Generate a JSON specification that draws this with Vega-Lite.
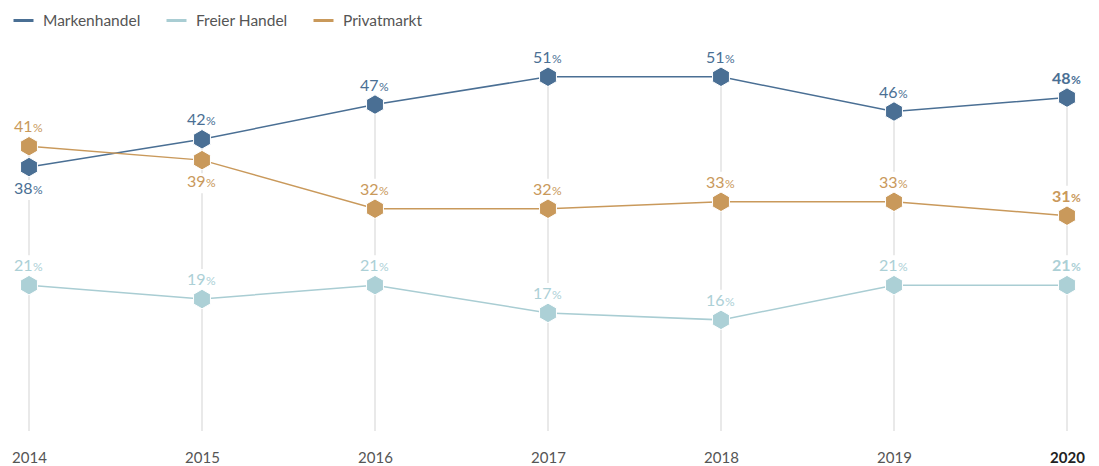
{
  "$schema": "https://vega.github.io/schema/vega-lite/v6.json",
  "autosize": "none",
  "width": 1038,
  "height": 382,
  "padding": {"left": 29, "top": 49, "right": 32, "bottom": 35},
  "background": "white",
  "config": {"view": {"stroke": null}, "font": "Lato"},
  "data": {
    "values": [
      {"year": 2014, "series": "Markenhandel", "value": 38},
      {"year": 2015, "series": "Markenhandel", "value": 42},
      {"year": 2016, "series": "Markenhandel", "value": 47},
      {"year": 2017, "series": "Markenhandel", "value": 51},
      {"year": 2018, "series": "Markenhandel", "value": 51},
      {"year": 2019, "series": "Markenhandel", "value": 46},
      {"year": 2020, "series": "Markenhandel", "value": 48},
      {"year": 2014, "series": "Freier Handel", "value": 21},
      {"year": 2015, "series": "Freier Handel", "value": 19},
      {"year": 2016, "series": "Freier Handel", "value": 21},
      {"year": 2017, "series": "Freier Handel", "value": 17},
      {"year": 2018, "series": "Freier Handel", "value": 16},
      {"year": 2019, "series": "Freier Handel", "value": 21},
      {"year": 2020, "series": "Freier Handel", "value": 21},
      {"year": 2014, "series": "Privatmarkt", "value": 41},
      {"year": 2015, "series": "Privatmarkt", "value": 39},
      {"year": 2016, "series": "Privatmarkt", "value": 32},
      {"year": 2017, "series": "Privatmarkt", "value": 32},
      {"year": 2018, "series": "Privatmarkt", "value": 33},
      {"year": 2019, "series": "Privatmarkt", "value": 33},
      {"year": 2020, "series": "Privatmarkt", "value": 31}
    ]
  },
  "encoding": {
    "x": {
      "field": "year",
      "type": "quantitative",
      "scale": {"domain": [2014, 2020], "nice": false, "zero": false},
      "axis": {
        "title": null,
        "values": [2014, 2015, 2016, 2017, 2018, 2019, 2020],
        "format": "d",
        "grid": false,
        "domain": false,
        "ticks": false,
        "labelFlush": false,
        "labelOverlap": false,
        "labelPadding": 19,
        "labelFontSize": 15,
        "labelFont": "Lato",
        "labelColor": {"condition": {"test": "datum.value == 2020", "value": "#222222"}, "value": "#555555"},
        "labelFontWeight": {"condition": {"test": "datum.value == 2020", "value": "bold"}, "value": "normal"}
      }
    },
    "y": {
      "field": "value",
      "type": "quantitative",
      "scale": {"domain": [0, 55], "nice": false},
      "axis": null
    }
  },
  "layer": [
    {
      "transform": [{"aggregate": [{"op": "max", "field": "value", "as": "top"}], "groupby": ["year"]}],
      "mark": {"type": "rule", "color": "#e2e2e2", "strokeWidth": 1.5},
      "encoding": {
        "y": {"field": "top", "type": "quantitative"},
        "y2": {"datum": 0}
      }
    },
    {
      "transform": [{"filter": "!((datum.series == 'Markenhandel' && datum.year == 2014) || (datum.series == 'Privatmarkt' && datum.year == 2015))"}],
      "mark": {"type": "point", "filled": true, "shape": "M-1.7,-3L1.7,-3L1.7,-0.9L-1.7,-0.9Z", "size": 400, "fill": "white", "strokeWidth": 0, "opacity": 1}
    },
    {
      "transform": [{"filter": "(datum.series == 'Markenhandel' && datum.year == 2014) || (datum.series == 'Privatmarkt' && datum.year == 2015)"}],
      "mark": {"type": "point", "filled": true, "shape": "M-1.7,1.3L1.7,1.3L1.7,3.3L-1.7,3.3Z", "size": 400, "fill": "white", "strokeWidth": 0, "opacity": 1}
    },
    {
      "mark": {"type": "line", "strokeWidth": 1.5},
      "encoding": {
        "color": {
          "field": "series",
          "type": "nominal",
          "scale": {"domain": ["Markenhandel", "Freier Handel", "Privatmarkt"], "range": ["#4a6f94", "#a9cdd3", "#c9995b"]},
          "legend": {
            "title": null,
            "orient": "none",
            "legendX": -17,
            "legendY": -40,
            "direction": "horizontal",
            "symbolType": "stroke",
            "symbolSize": 400,
            "symbolStrokeWidth": 3,
            "labelFontSize": 15.5,
            "labelFont": "Lato",
            "labelColor": "#555555",
            "labelOffset": 8,
            "columnPadding": 19
          }
        }
      }
    },
    {
      "mark": {"type": "point", "filled": true, "shape": "M0,-1L0.866,-0.5L0.866,0.5L0,1L-0.866,0.5L-0.866,-0.5Z", "size": 380, "stroke": "white", "strokeWidth": 1, "opacity": 1},
      "encoding": {
        "fill": {
          "field": "series",
          "type": "nominal",
          "scale": {"domain": ["Markenhandel", "Freier Handel", "Privatmarkt"], "range": ["#4a6f94", "#acd0d6", "#c9995b"]},
          "legend": null
        }
      }
    },
    {
      "encoding": {
        "fill": {
          "field": "series",
          "type": "nominal",
          "scale": {"domain": ["Markenhandel", "Freier Handel", "Privatmarkt"], "range": ["#4a6f94", "#acd0d6", "#c9995b"]},
          "legend": null
        }
      },
      "layer": [
        {
          "transform": [{"filter": "datum.year < 2020 && !((datum.series == 'Markenhandel' && datum.year == 2014) || (datum.series == 'Privatmarkt' && datum.year == 2015))"}],
          "mark": {"type": "text", "align": "right", "baseline": "alphabetic", "dx": 3.5, "dy": -14, "fontSize": 16},
          "encoding": {"text": {"field": "value", "type": "quantitative"}}
        },
        {
          "transform": [{"filter": "datum.year < 2020 && !((datum.series == 'Markenhandel' && datum.year == 2014) || (datum.series == 'Privatmarkt' && datum.year == 2015))"}],
          "mark": {"type": "text", "align": "left", "baseline": "alphabetic", "dx": 4, "dy": -14, "fontSize": 12},
          "encoding": {"text": {"value": "%"}}
        },
        {
          "transform": [{"filter": "(datum.series == 'Markenhandel' && datum.year == 2014) || (datum.series == 'Privatmarkt' && datum.year == 2015)"}],
          "mark": {"type": "text", "align": "right", "baseline": "alphabetic", "dx": 3.5, "dy": 27, "fontSize": 16},
          "encoding": {"text": {"field": "value", "type": "quantitative"}}
        },
        {
          "transform": [{"filter": "(datum.series == 'Markenhandel' && datum.year == 2014) || (datum.series == 'Privatmarkt' && datum.year == 2015)"}],
          "mark": {"type": "text", "align": "left", "baseline": "alphabetic", "dx": 4, "dy": 27, "fontSize": 12},
          "encoding": {"text": {"value": "%"}}
        },
        {
          "transform": [{"filter": "datum.year == 2020"}],
          "mark": {"type": "text", "align": "right", "baseline": "alphabetic", "dx": 3.5, "dy": -14, "fontSize": 16, "fontWeight": "bold"},
          "encoding": {"text": {"field": "value", "type": "quantitative"}}
        },
        {
          "transform": [{"filter": "datum.year == 2020"}],
          "mark": {"type": "text", "align": "left", "baseline": "alphabetic", "dx": 4, "dy": -14, "fontSize": 12, "fontWeight": "bold"},
          "encoding": {"text": {"value": "%"}}
        }
      ]
    }
  ]
}
